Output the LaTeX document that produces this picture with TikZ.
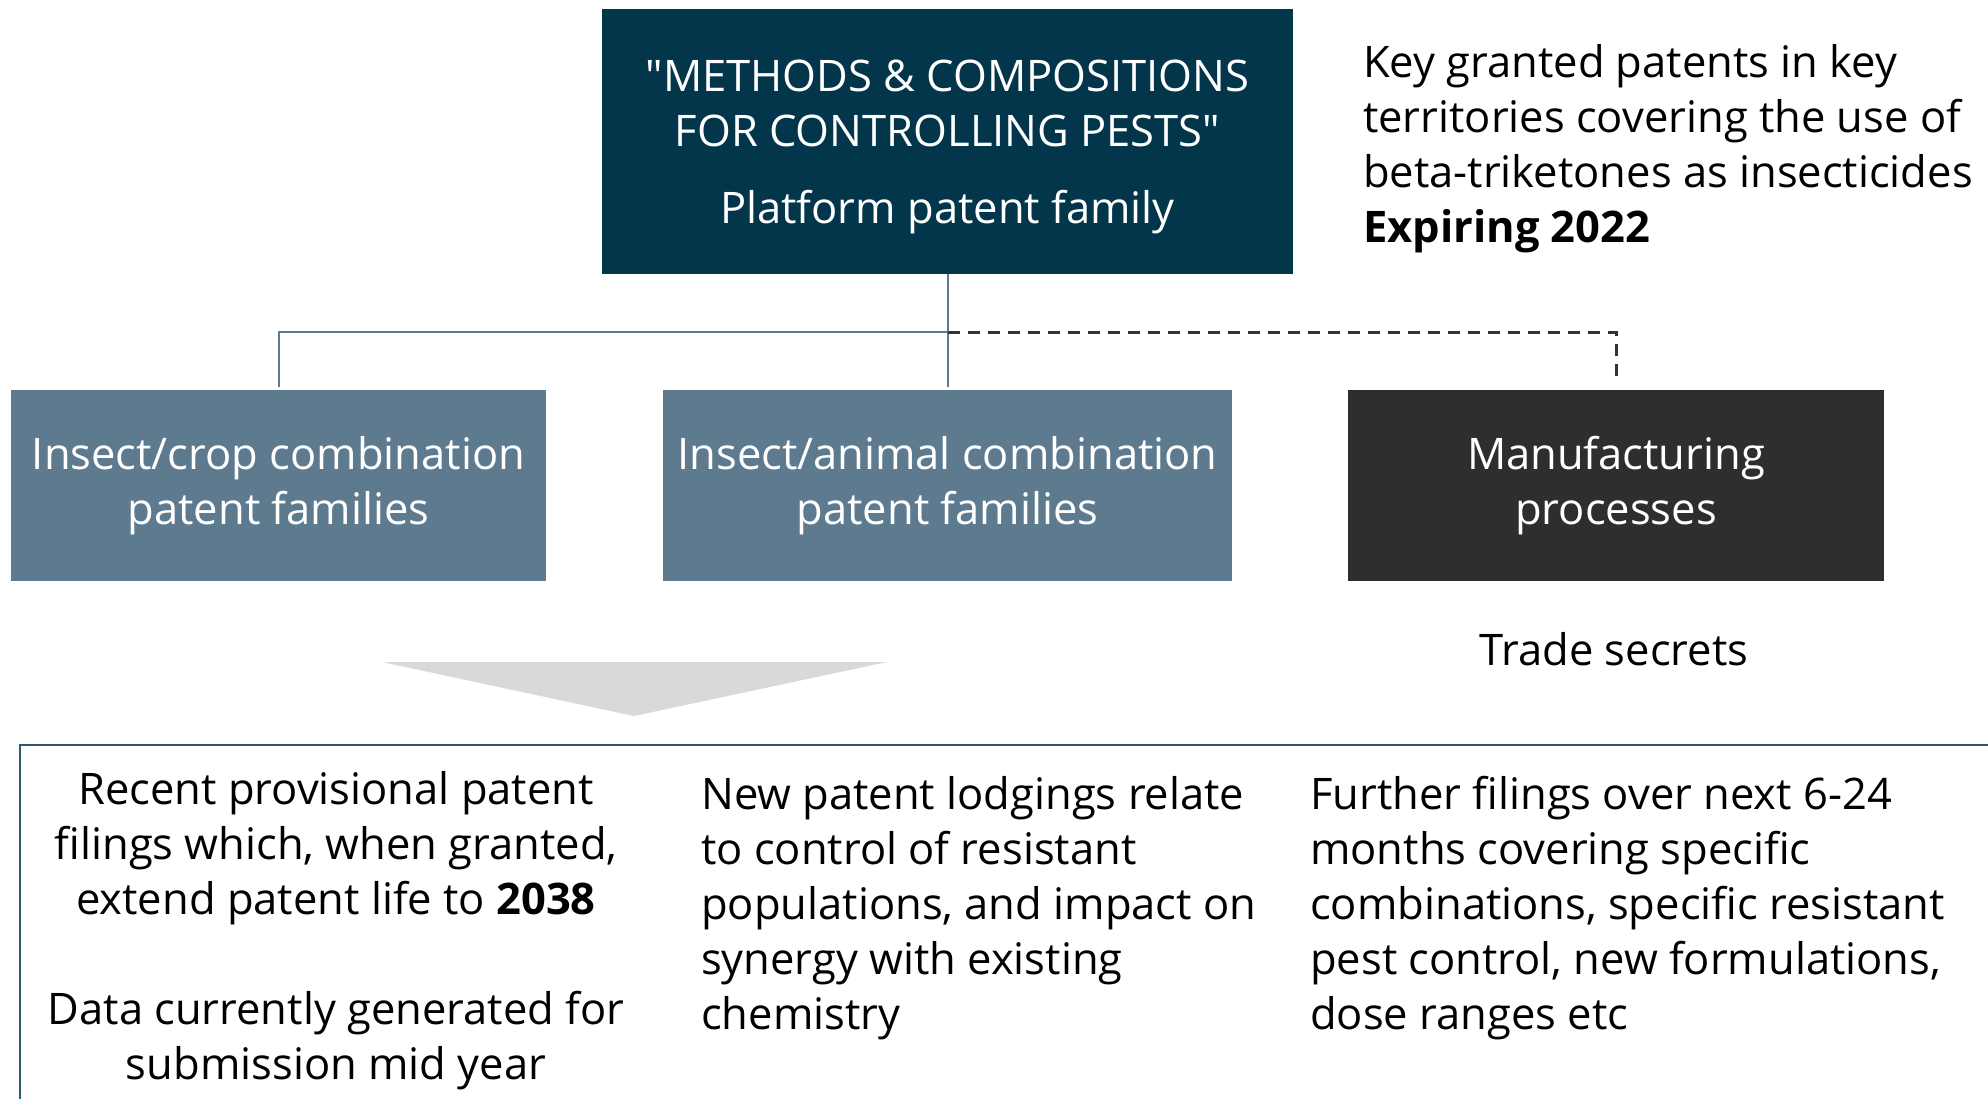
\documentclass[tikz,border=0pt]{standalone}
\usepackage{fontspec}
\setmainfont{Open Sans}[Ligatures=TeXOff]
\definecolor{navy}{HTML}{03364A}
\definecolor{slate}{HTML}{5D7A8F}
\definecolor{charcoal}{HTML}{2E2E2E}
\definecolor{dashcol}{HTML}{333333}
\definecolor{frameline}{HTML}{2E5A6E}
\definecolor{arrowgray}{HTML}{D9D9D9}
\tikzset{
  box/.style={rectangle, inner sep=0pt, align=center, text=white, font=\fontsize{43.5}{55}\selectfont},
  conn/.style={draw=slate, line width=2pt, shorten >=3pt},
  dconn/.style={draw=dashcol, line width=3pt, dash pattern=on 12pt off 8pt, shorten >=7pt},
  txt/.style={inner sep=0pt, font=\fontsize{43.5}{55}\selectfont, text=black},
}
\begin{document}
\begin{tikzpicture}[x=1pt,y=-1pt]
\useasboundingbox (0,0) rectangle (1988,1099);
% boxes
\node[box, fill=navy, minimum width=691pt, minimum height=265pt] (top) at (947.5,141.5) {};
\node[box] (toptext) at (947.5,146.5)
  {"METHODS \& COMPOSITIONS\\FOR CONTROLLING PESTS"\\[22pt]Platform patent family};
\node[box, fill=slate, minimum width=535pt, minimum height=191pt] (crop) at (278.5,485.5)
  {Insect/crop combination\\patent families};
\node[box, fill=slate, minimum width=569pt, minimum height=191pt] (animal) at (947.5,485.5)
  {Insect/animal combination\\patent families};
\node[box, fill=charcoal, minimum width=536pt, minimum height=191pt] (manu) at (1616,485.5)
  {Manufacturing\\processes};
% connectors
\coordinate (junc) at (947.5,332);
\draw[conn] (top.south) -- (animal.north);
\draw[conn] (junc) -| (crop.north);
\draw[dconn] (junc) -| (manu.north);
% side texts
\node[txt, anchor=west, align=left] (key) at (1363,149)
  {Key granted patents in key\\territories covering the use of\\beta-triketones as insecticides\\\textbf{Expiring 2022}};
\node[txt] (trade) at (1614,649) {Trade secrets};
% gray arrow
\fill[arrowgray] (382,662) -- (887,662) -- (634,716) -- cycle;
% bottom frame
\draw[frameline, line width=2pt] (1995,745) -- (20,745) -- (20,1110);
% bottom columns
\node[txt, align=center] (c1) at (336,931)
  {Recent provisional patent\\filings which, when granted,\\extend patent life to \textbf{2038}\\[55pt]Data currently generated for\\submission mid year};
\node[txt, anchor=west, align=left] (c2) at (701,908)
  {New patent lodgings relate\\to control of resistant\\populations, and impact on\\synergy with existing\\chemistry};
\node[txt, anchor=west, align=left] (c3) at (1310,908)
  {Further filings over next 6-24\\months covering specific\\combinations, specific resistant\\pest control, new formulations,\\dose ranges etc};
\end{tikzpicture}
\end{document}
